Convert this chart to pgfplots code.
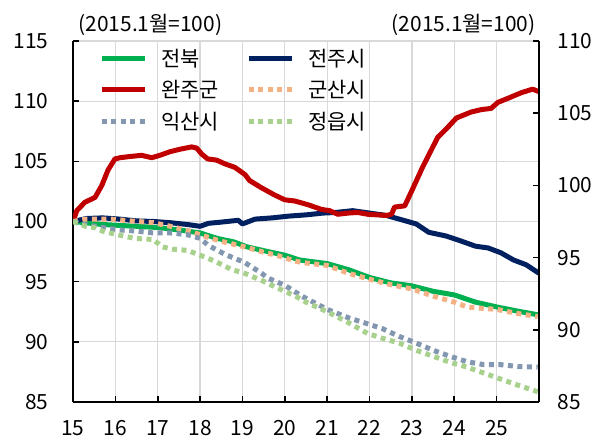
\documentclass[border=0pt]{standalone}
\usepackage{fontspec}
\setmainfont{Noto Sans CJK KR}
\usepackage{pgfplots}
\pgfplotsset{compat=1.18}
\definecolor{cJB}{HTML}{00B050}
\definecolor{cJJ}{HTML}{002060}
\definecolor{cWJ}{HTML}{C00000}
\definecolor{cGS}{HTML}{F4B183}
\definecolor{cIS}{HTML}{8497B0}
\definecolor{cJE}{HTML}{A9D18E}
\newcommand{\bigf}{\fontsize{21}{25}\selectfont}
\begin{document}
\begin{tikzpicture}
\begin{axis}[name=main, scale only axis, width=466bp, height=361bp,
  xmin=15, xmax=26, ymin=85, ymax=115,
  axis x line*=bottom, axis y line*=left,
  xtick={15,...,25}, ytick={85,90,...,115},
  grid=major, grid style={draw=black!15, line width=1.2bp},
  tick align=inside, major tick length=6bp,
  tick style={black, line width=1.6bp},
  axis line style={black, line width=1.8bp},
  /pgf/number format/assume math mode=true,
  ticklabel style={font=\bigf},
  yticklabel style={xshift=-21bp},
  xticklabel style={yshift=-15bp},
  legend columns=2, legend cell align=left,
  legend image code/.code={\draw[#1] (0bp,0bp) -- (43bp,0bp);},
  legend style={draw=none, fill=none, anchor=north west, at={(axis description cs:0.05,0.99)},
    font=\bigf, row sep=9bp,
    /tikz/every odd column/.append style={column sep=12bp},
    /tikz/every even column/.append style={column sep=25bp}},
  solid/.style={line width=5bp, line join=round},
  dots/.style={line width=5bp, dash pattern=on 5bp off 4.5bp},
]
\addplot[solid, cJB] coordinates {(15.0,100.0) (15.7,99.75) (16.5,99.6) (17.0,99.5) (17.5,99.3) (18.0,99.05) (18.4,98.6) (18.8,98.3) (19.1,97.9) (19.6,97.5) (20.0,97.2) (20.35,96.8) (21.0,96.5) (21.5,96.0) (22.0,95.35) (22.5,94.9) (23.0,94.65) (23.5,94.2) (24.0,93.9) (24.5,93.3) (25.0,92.9) (25.5,92.55) (25.97,92.25)};
\addlegendentry{전북}
\addplot[solid, cJJ] coordinates {(15.0,100.0) (15.32,100.25) (15.7,100.3) (16.1,100.2) (16.5,100.05) (16.9,100.0) (17.3,99.9) (17.7,99.75) (18.0,99.6) (18.2,99.85) (18.5,99.95) (18.9,100.1) (19.0,99.8) (19.3,100.2) (19.7,100.3) (20.1,100.45) (20.5,100.55) (20.9,100.7) (21.2,100.75) (21.6,100.9) (22.0,100.7) (22.4,100.5) (22.8,100.1) (23.1,99.8) (23.4,99.1) (23.8,98.8) (24.1,98.45) (24.5,97.95) (24.8,97.8) (25.1,97.4) (25.4,96.8) (25.7,96.4) (26.0,95.7)};
\addlegendentry{전주시}
\addplot[solid, cWJ] coordinates {(15.0,100.0) (15.09,100.9) (15.28,101.6) (15.52,102.0) (15.68,103.0) (15.83,104.3) (15.99,105.2) (16.11,105.3) (16.34,105.4) (16.62,105.5) (16.86,105.3) (17.05,105.5) (17.29,105.8) (17.52,106.0) (17.8,106.2) (17.92,106.1) (18.04,105.6) (18.18,105.2) (18.39,105.1) (18.58,104.8) (18.82,104.5) (19.06,103.9) (19.17,103.4) (19.45,102.8) (19.76,102.2) (20.0,101.8) (20.24,101.7) (20.54,101.4) (20.87,101.0) (21.06,100.9) (21.25,100.6) (21.49,100.7) (21.72,100.75) (21.96,100.6) (22.4,100.5) (22.52,100.6) (22.59,101.2) (22.83,101.3) (22.99,102.5) (23.25,104.5) (23.61,107.0) (23.84,107.8) (24.05,108.6) (24.4,109.1) (24.64,109.3) (24.87,109.4) (25.03,109.9) (25.31,110.3) (25.58,110.7) (25.85,111.0) (25.99,110.8)};
\addlegendentry{완주군}
\addplot[dots, cGS] coordinates {(15.0,100.0) (15.3,100.2) (15.9,100.2) (16.35,100.05) (16.9,99.9) (17.3,99.6) (17.75,99.2) (18.0,98.9) (18.45,98.4) (18.8,98.1) (19.1,97.85) (19.55,97.4) (19.8,97.2) (20.25,96.7) (20.5,96.55) (21.0,96.35) (21.5,95.7) (22.0,95.2) (22.5,94.75) (23.0,94.4) (23.5,93.8) (24.0,93.3) (24.3,92.9) (24.6,92.8) (25.0,92.7) (25.5,92.35) (25.97,92.1)};
\addlegendentry{군산시}
\addplot[dots, cIS] coordinates {(15.0,100.0) (15.35,99.7) (15.7,99.5) (16.1,99.3) (16.5,99.2) (16.9,99.05) (17.3,99.05) (17.7,98.9) (18.0,98.6) (18.2,98.0) (18.6,97.25) (19.05,96.6) (19.45,95.7) (19.6,95.3) (20.0,94.7) (20.4,93.8) (21.0,92.7) (21.5,92.0) (21.95,91.5) (22.3,91.1) (22.7,90.45) (23.1,89.9) (23.5,89.3) (23.9,88.8) (24.3,88.35) (24.7,88.1) (25.1,88.1) (25.5,87.95) (25.97,87.9)};
\addlegendentry{익산시}
\addplot[dots, cJE] coordinates {(15.0,100.0) (15.3,99.6) (15.5,99.5) (15.7,99.2) (16.05,98.9) (16.45,98.6) (16.9,98.5) (17.1,97.9) (17.35,97.7) (17.7,97.6) (18.0,97.2) (18.35,96.7) (18.75,96.0) (19.05,95.7) (19.55,94.95) (19.75,94.6) (20.25,93.8) (20.5,93.3) (21.0,92.5) (21.5,91.6) (21.95,90.7) (22.3,90.3) (22.7,89.9) (23.1,89.3) (23.5,88.8) (23.9,88.3) (24.3,87.9) (24.7,87.4) (25.1,86.9) (25.5,86.4) (25.97,85.85)};
\addlegendentry{정읍시}
\end{axis}
\begin{axis}[scale only axis, width=466bp, height=361bp,
  xmin=15, xmax=26, ymin=85, ymax=110,
  hide x axis, axis y line*=right,
  ytick={85,90,...,110},
  tick align=inside, major tick length=6bp,
  tick style={black, line width=1.6bp},
  axis line style={black, line width=1.8bp},
  /pgf/number format/assume math mode=true,
  ticklabel style={font=\bigf},
  yticklabel style={xshift=15bp},
]
\end{axis}
\node[anchor=west, font=\bigf] at ([shift={(2bp,16bp)}]main.north west) {(2015.1월=100)};
\node[anchor=east, font=\bigf] at ([shift={(0bp,16bp)}]main.north east) {(2015.1월=100)};
\pgfresetboundingbox
\path[use as bounding box] ([shift={(-73bp,-44bp)}]main.south west) rectangle ([shift={(59bp,41bp)}]main.north east);
\end{tikzpicture}
\end{document}
